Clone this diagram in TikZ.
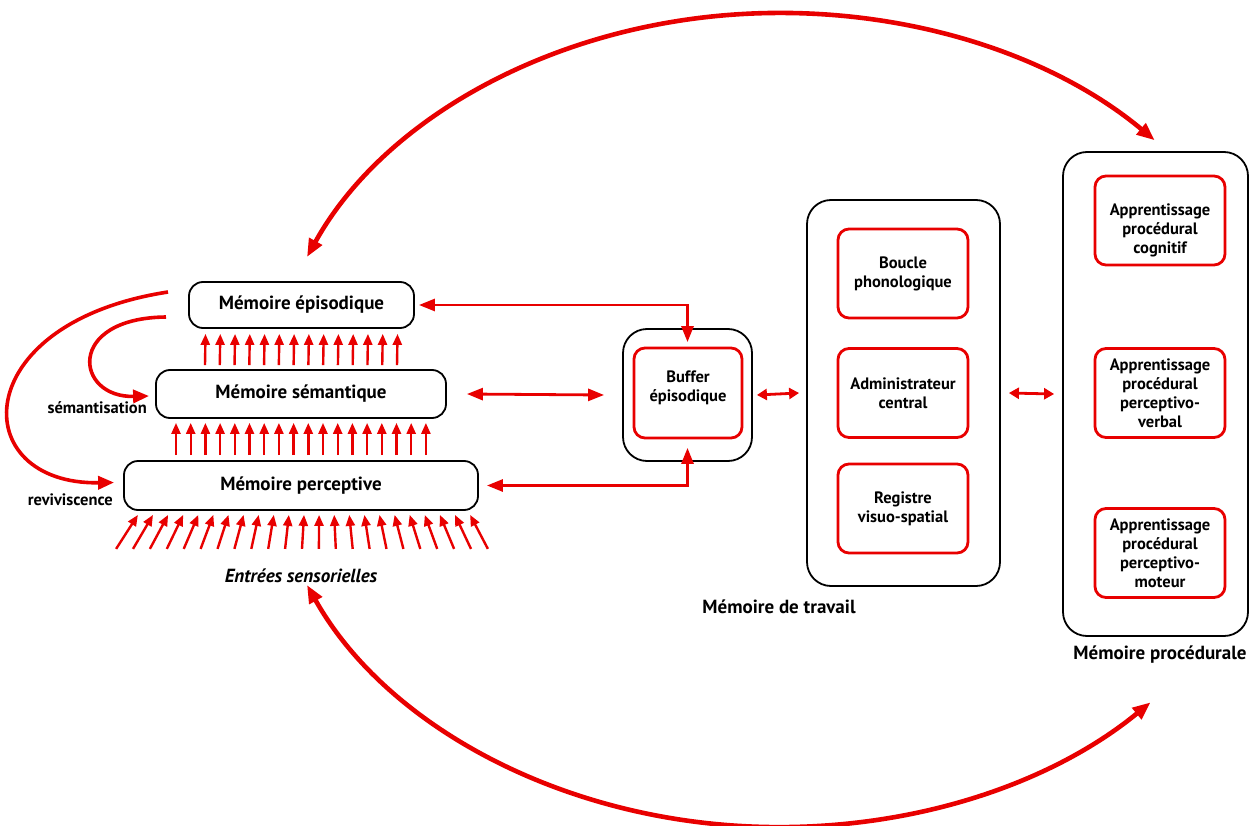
\documentclass[tikz,border=0pt]{standalone}
\usepackage{fontspec}
\setmainfont{PT Sans}
\usepackage{tikz}
\usetikzlibrary{arrows.meta,positioning,calc}
\definecolor{myred}{RGB}{232,0,0}

\begin{document}
\begin{tikzpicture}[
  x=1pt,y=-1pt,
  myblock/.style={
    draw,
    line width=1.8pt,
    rounded corners=14pt,
    minimum width=#1,
    inner sep=0pt,
    font=\fontsize{19}{22}\selectfont\bfseries
    },
  myouter/.style={
    draw,
    line width=1.8pt,
    rounded corners=24pt,
    minimum width=#1,
    inner sep=0pt
    },
  myinner/.style={
    draw=myred,
    line width=2.8pt,
    rounded corners=11pt,
    minimum width=130pt,
    minimum height=89pt,
    inner sep=0pt,
    align=center,
    font=\fontsize{16.5}{19}\selectfont\bfseries
    },
  mylabel/.style={
    inner sep=0pt,
    font=\fontsize{19}{22}\selectfont\bfseries
    },
  mysmall/.style={
    inner sep=0pt,
    font=\fontsize{16.5}{19}\selectfont\bfseries
    },
  myup/.style={
    draw=myred,
    line width=2.4pt,
    -{Triangle[length=11pt,width=9pt]}
    },
  mylink/.style={
    draw=myred,
    line width=2.8pt,
    {Triangle[length=16pt,width=12pt]}-{Triangle[length=16pt,width=12pt]}
    },
  myshort/.style={
    draw=myred,
    line width=2.8pt,
    {Triangle[length=10pt,width=11pt]}-{Triangle[length=10pt,width=11pt]}
    },
  mycurve/.style={
    draw=myred,
    line width=3.6pt,
    -{Triangle[length=16pt,width=13pt]}
    },
  mybigarc/.style={
    draw=myred,
    line width=4.6pt,
    {Triangle[length=18pt,width=14pt]}-{Triangle[length=18pt,width=14pt]}
    }
]
\useasboundingbox (0,0) rectangle (1249,826);

% memoires du systeme PEMS
\node[myblock=225pt, minimum height=46pt] (episodique) at (301.5,305) {Mémoire épisodique};
\node[myblock=290pt, minimum height=48pt] (semantique) at (301,394) {Mémoire sémantique};
\node[myblock=354pt, minimum height=49pt] (perceptive) at (301,485.5) {Mémoire perceptive};

\node[mysmall, anchor=east] (semantisation) at (147,408) {sémantisation};
\node[mysmall, anchor=east] (reviviscence) at (113,500) {reviviscence};
\node[mylabel, font=\fontsize{19}{22}\selectfont\bfseries\itshape] (entrees) at (301,576) {Entrées sensorielles};

% fleches entre les niveaux
\foreach \dx in {-96,-81.23,...,97}
  \draw[myup] ([xshift=\dx pt,yshift=4pt]semantique.north) -- ([xshift=\dx pt,yshift=-5pt]episodique.south);
\foreach \dx in {-125,-110.3,...,126}
  \draw[myup] ([xshift=\dx pt,yshift=5pt]perceptive.north) -- ([xshift=\dx pt,yshift=-4pt]semantique.south);
\foreach \i in {-11,...,11}
  \draw[myup] ([xshift=\i*16.9pt+1pt,yshift=-38pt]perceptive.south) -- ([xshift=\i*15.1pt+3pt,yshift=-4pt]perceptive.south);

% boucles de retour
\coordinate (semstart) at (166,317);
\coordinate (revstart) at (168,292);
\draw[mycurve] (semstart) .. controls (65,318) and (75,398) .. ([xshift=-6pt,yshift=-2pt]semantique.west);
\draw[mycurve] (revstart) .. controls (-34,323) and (-34,485) .. ([xshift=-9pt,yshift=3pt]perceptive.west);

% memoire de travail
\node[myouter=129pt, minimum height=132pt] (bufferout) at (687.5,395) {};
\node[myinner, minimum width=108pt, minimum height=90pt] (buffer) at (688,393) {Buffer\\épisodique\\[-11pt]\strut};

\node[myouter=193pt, minimum height=386pt] (travail) at (903.5,393) {};
\node[myinner] (boucle) at (903,273.5) {Boucle\\phonologique};
\node[myinner] (admin) at (903,393) {Administrateur\\central};
\node[myinner] (registre) at (903,508.5) {Registre\\visuo-spatial};
\node[mylabel] (travaillabel) at (779,607) {Mémoire de travail};

% memoire procedurale
\node[myouter=185pt, minimum height=484pt] (procedurale) at (1155.5,394) {};
\node[myinner] (cognitif) at (1160,220.5) {\strut\\Apprentissage\\procédural\\cognitif};
\node[myinner] (verbal) at (1160,393) {Apprentissage\\procédural\\perceptivo-\\verbal};
\node[myinner] (moteur) at (1160,553) {Apprentissage\\procédural\\perceptivo-\\moteur};
\node[mylabel] (procedurallabel) at (1160,655) {Mémoire procédurale};

% liaisons
\draw[mylink] ([xshift=4pt]episodique.east) -| ([yshift=-14pt]bufferout.north);
\draw[mylink] ([xshift=8pt]perceptive.east) -| ([yshift=14pt]bufferout.south);
\draw[mylink] ([xshift=20pt]semantique.east) -- ([xshift=-18pt]bufferout.west);
\draw[myshort] ([xshift=4pt]bufferout.east) -- ([xshift=-7pt]travail.west);
\draw[myshort] ([xshift=8pt]travail.east) -- ([xshift=-8pt]procedurale.west);

% grands arcs
\coordinate (arctop) at (307,257);
\coordinate (arcbottom) at (307,585);
\draw[mybigarc] (arctop) arc[start angle=203.6, end angle=316.6, x radius=516, y radius=407];
\draw[mybigarc] (arcbottom) arc[start angle=156.1, end angle=43.9, x radius=516, y radius=407];

\end{tikzpicture}
\end{document}
